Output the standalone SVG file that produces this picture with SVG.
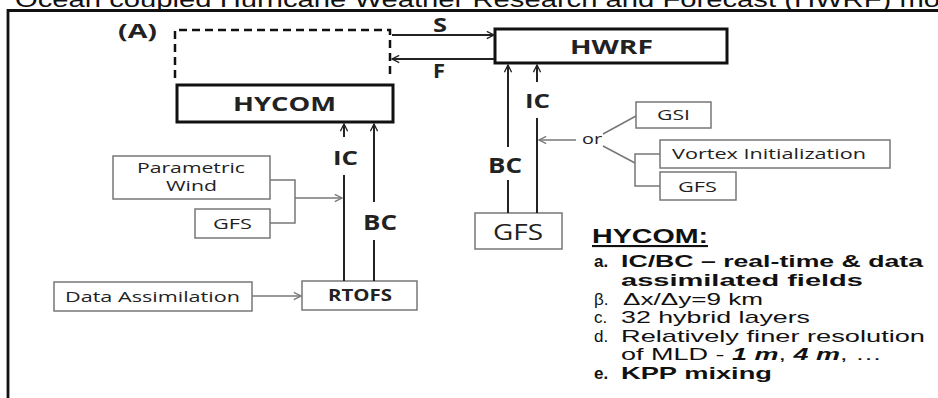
<svg xmlns="http://www.w3.org/2000/svg" width="938" height="398" viewBox="0 0 938 398">
<style>
.t{font-family:"Open Sans","Liberation Sans",sans-serif;fill:#222}
.b{font-weight:700}
.box{fill:#fff;stroke:#777;stroke-width:1.5}
.main{fill:#fff;stroke:#111;stroke-width:3}
.ln{fill:none;stroke:#222;stroke-width:2}
.gl{fill:none;stroke:#777;stroke-width:1.5}
.tx{font-family:"Liberation Sans",Arial,sans-serif;fill:#111}
</style>
<defs>
<marker id="ah" viewBox="0 0 10 10" refX="9" refY="5" markerWidth="9" markerHeight="9" markerUnits="userSpaceOnUse" orient="auto"><path d="M1,1 L9,5 L1,9" fill="none" stroke="#222" stroke-width="1.5"/></marker>
<marker id="ag" viewBox="0 0 10 10" refX="9" refY="5" markerWidth="9" markerHeight="9" markerUnits="userSpaceOnUse" orient="auto"><path d="M1,1 L9,5 L1,9" fill="none" stroke="#777" stroke-width="1.5"/></marker>
</defs>
<rect width="938" height="398" fill="#fff"/>
<text x="15" y="7" font-family="Liberation Sans,Arial,sans-serif" font-size="22" fill="#111" textLength="964" lengthAdjust="spacingAndGlyphs">Ocean coupled Hurricane Weather Research and Forecast (HWRF) model</text>
<path d="M8,398 V10.5 H938" fill="none" stroke="#111" stroke-width="2.8"/>
<text class="t b" x="118" y="38" font-size="19" textLength="39" lengthAdjust="spacingAndGlyphs">(A)</text>

<g id="ocean-dashed">
<path d="M175,78 V30 H390 V78" fill="none" stroke="#111" stroke-width="2.5" stroke-dasharray="8 5"/>
</g>
<g id="hycom">
<rect class="main" x="177" y="85" width="216" height="37"/>
<text class="t b" x="233" y="111" font-size="20" textLength="103" lengthAdjust="spacingAndGlyphs">HYCOM</text>
</g>
<g id="hwrf">
<rect class="main" x="495" y="29" width="232" height="34"/>
<text class="t b" x="570" y="54" font-size="20" textLength="83" lengthAdjust="spacingAndGlyphs">HWRF</text>
</g>
<g id="param-wind">
<rect class="box" x="113" y="156" width="157" height="43"/>
<text class="t" x="137" y="173" font-size="14.5" textLength="108" lengthAdjust="spacingAndGlyphs">Parametric</text>
<text class="t" x="166" y="191" font-size="14.5" textLength="51" lengthAdjust="spacingAndGlyphs">Wind</text>
</g>
<g id="gfs-left">
<rect class="box" x="195" y="209" width="75" height="29"/>
<text class="t" x="213" y="229" font-size="15" textLength="39" lengthAdjust="spacingAndGlyphs">GFS</text>
</g>
<g id="data-assim">
<rect class="box" x="54" y="282" width="198" height="29"/>
<text class="t" x="65" y="302" font-size="15" textLength="175" lengthAdjust="spacingAndGlyphs">Data Assimilation</text>
</g>
<g id="rtofs">
<rect class="box" x="302" y="281" width="115" height="29"/>
<text class="t b" x="328" y="301" font-size="16" textLength="64" lengthAdjust="spacingAndGlyphs">RTOFS</text>
</g>
<g id="gsi">
<rect class="box" x="636" y="102" width="75" height="26"/>
<text class="t" x="657" y="120" font-size="15" textLength="33" lengthAdjust="spacingAndGlyphs">GSI</text>
</g>
<g id="vortex">
<rect class="box" x="660" y="140" width="230" height="28"/>
<text class="t" x="672" y="159" font-size="15" textLength="194" lengthAdjust="spacingAndGlyphs">Vortex Initialization</text>
</g>
<g id="gfs-small">
<rect class="box" x="660" y="172" width="76" height="28"/>
<text class="t" x="678" y="192" font-size="15" textLength="39" lengthAdjust="spacingAndGlyphs">GFS</text>
</g>
<g id="gfs-big">
<rect class="box" x="475" y="213" width="87" height="36"/>
<text class="t" x="493" y="240" font-size="21" textLength="50" lengthAdjust="spacingAndGlyphs">GFS</text>
</g>

<g id="connectors">
<line class="ln" x1="392" y1="35" x2="494" y2="35" marker-end="url(#ah)"/>
<line class="ln" x1="494" y1="59" x2="392" y2="59" marker-end="url(#ah)"/>
<line class="ln" x1="508" y1="147" x2="508" y2="65" marker-end="url(#ah)"/>
<line class="ln" x1="508" y1="213" x2="508" y2="180"/>
<line class="ln" x1="537" y1="82" x2="537" y2="65" marker-end="url(#ah)"/>
<line class="ln" x1="537" y1="213" x2="537" y2="118"/>
<line class="gl" x1="576" y1="140" x2="539" y2="140" marker-end="url(#ag)"/>
<line class="gl" x1="603" y1="134" x2="636" y2="116"/>
<line class="gl" x1="603" y1="146" x2="635" y2="163"/>
<path class="gl" d="M660,154 H635 V186 H660"/>
<line class="ln" x1="344" y1="137" x2="344" y2="124" marker-end="url(#ah)"/>
<line class="ln" x1="344" y1="281" x2="344" y2="175"/>
<line class="ln" x1="374" y1="202" x2="374" y2="124" marker-end="url(#ah)"/>
<line class="ln" x1="374" y1="281" x2="374" y2="240"/>
<path class="gl" d="M270,180 H295 V223 H270"/>
<line class="gl" x1="295" y1="198" x2="342" y2="198" marker-end="url(#ag)"/>
<line class="gl" x1="252" y1="296" x2="301" y2="296" marker-end="url(#ag)"/>
</g>

<g id="labels">
<text class="t b" x="433" y="32" font-size="19" textLength="14" lengthAdjust="spacingAndGlyphs">S</text>
<text class="t b" x="433" y="78" font-size="19" textLength="12" lengthAdjust="spacingAndGlyphs">F</text>
<text class="t b" x="333" y="165" font-size="20" textLength="25" lengthAdjust="spacingAndGlyphs">IC</text>
<text class="t b" x="363" y="230" font-size="21" textLength="34" lengthAdjust="spacingAndGlyphs">BC</text>
<text class="t b" x="525" y="108" font-size="20" textLength="25" lengthAdjust="spacingAndGlyphs">IC</text>
<text class="t b" x="488" y="173" font-size="21" textLength="34" lengthAdjust="spacingAndGlyphs">BC</text>
<text class="t" x="582" y="144" font-size="15" textLength="20" lengthAdjust="spacingAndGlyphs">or</text>
</g>

<g id="hycom-notes" class="tx">
<text x="592" y="243" font-size="21" font-weight="700" text-decoration="underline" textLength="116" lengthAdjust="spacingAndGlyphs">HYCOM:</text>
<text x="594" y="267" font-size="17" font-weight="700">a.</text>
<text x="621" y="267" font-size="17" font-weight="700" textLength="302" lengthAdjust="spacingAndGlyphs">IC/BC – real-time &amp; data</text>
<text x="621" y="286" font-size="17" font-weight="700" textLength="242" lengthAdjust="spacingAndGlyphs">assimilated fields</text>
<text x="594" y="305" font-size="17">β.</text>
<text x="623" y="305" font-size="17" textLength="140" lengthAdjust="spacingAndGlyphs">Δx/Δy=9 km</text>
<text x="594" y="323" font-size="17">c.</text>
<text x="621" y="323" font-size="17" textLength="189" lengthAdjust="spacingAndGlyphs">32 hybrid layers</text>
<text x="594" y="342" font-size="17">d.</text>
<text x="621" y="342" font-size="17" textLength="304" lengthAdjust="spacingAndGlyphs">Relatively finer resolution</text>
<text x="621" y="360" font-size="17" textLength="261" lengthAdjust="spacingAndGlyphs">of MLD -  <tspan font-weight="700" font-style="italic">1 m</tspan>, <tspan font-weight="700" font-style="italic">4 m</tspan>, …</text>
<text x="594" y="379" font-size="17" font-weight="700">e.</text>
<text x="621" y="379" font-size="17" font-weight="700" textLength="151" lengthAdjust="spacingAndGlyphs">KPP mixing</text>
</g>
</svg>
